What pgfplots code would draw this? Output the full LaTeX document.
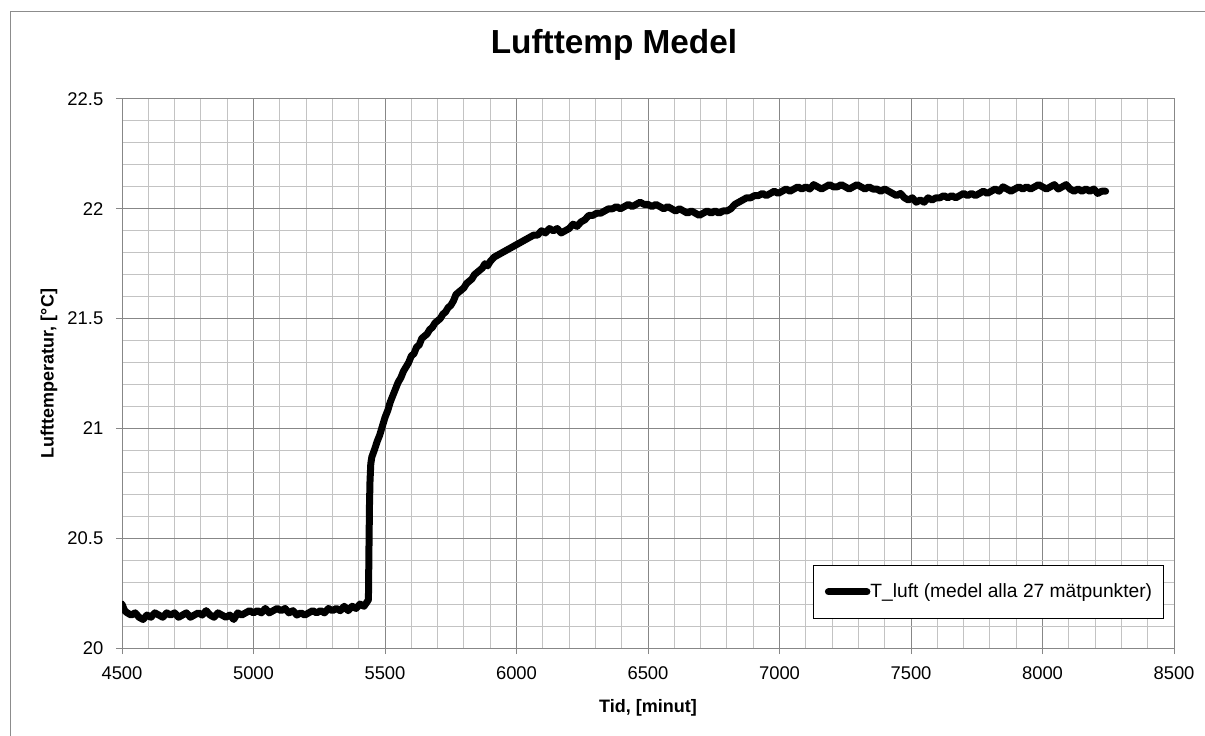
\documentclass[border=0pt]{standalone}
\usepackage{pgfplots}
\pgfplotsset{compat=1.18}
\usepackage{fontspec}
\setmainfont{Liberation Sans}
\definecolor{majgrid}{HTML}{878787}
\definecolor{mingrid}{HTML}{C3C3C3}
\definecolor{framegray}{HTML}{8C8C8C}
\begin{document}
\begin{tikzpicture}
\useasboundingbox (0,0) rectangle (903.75pt,551.25pt);
\fill[white] (0,0) rectangle (903.75pt,551.25pt);
\draw[framegray, line width=0.75pt] (7.5pt,-1pt) -- (7.5pt,542.25pt) -- (905pt,542.25pt);
\begin{axis}[
  at={(91.5pt,65.25pt)}, anchor=south west,
  scale only axis, width=789pt, height=411.75pt,
  xmin=4500, xmax=8500, ymin=20, ymax=22.5,
  xtick={4500,5000,...,8500},
  ytick={20,20.5,21,21.5,22,22.5},
  minor x tick num=4, minor y tick num=4,
  grid=both,
  major grid style={majgrid, line width=0.75pt},
  minor grid style={mingrid, line width=0.75pt},
  axis line style={majgrid, line width=0.75pt},
  tick style={majgrid, line width=0.75pt},
  tick align=outside,
  major tick length=4.5pt, minor tick length=0pt,
  xtick pos=bottom, ytick pos=left,
  /pgf/number format/assume math mode=true,
  /pgf/number format/1000 sep={},
  ticklabel style={font=\fontsize{13.8}{16}\selectfont},
  xticklabel style={yshift=-6pt},
  yticklabel style={xshift=-6pt},
  xlabel={Tid, [minut]},
  ylabel={Lufttemperatur, [°C]},
  label style={font=\fontsize{13.5}{16}\selectfont\bfseries},
  xlabel style={at={(axis description cs:0.5,-0.1184)}, anchor=base},
  ylabel style={at={(axis description cs:-0.0694,0.5)}, anchor=center},
  title={Lufttemp Medel},
  title style={at={(axis description cs:0.4677,1.0674)}, anchor=base, font=\fontsize{25}{30}\selectfont\bfseries},
  legend style={at={(axis description cs:0.9905,0.0528)}, anchor=south east,
    draw=black, line width=0.75pt, inner xsep=8.5pt, inner ysep=14pt,
    font=\fontsize{14.4}{17}\selectfont, nodes={inner sep=0pt}},
  legend image code/.code={\draw[line width=5.4pt, line cap=round] (2.5pt,0pt) -- (31.25pt,0pt);},
]
\addplot[black, line width=5.25pt, line join=round, line cap=round] table {
4500 20.20
4510 20.17
4520 20.16
4535 20.15
4550 20.16
4565 20.14
4580 20.13
4595 20.15
4610 20.14
4625 20.16
4640 20.15
4655 20.14
4670 20.16
4685 20.15
4700 20.16
4715 20.14
4730 20.15
4745 20.16
4760 20.14
4775 20.15
4790 20.16
4805 20.15
4820 20.17
4835 20.15
4850 20.14
4865 20.16
4880 20.15
4895 20.14
4910 20.15
4925 20.13
4940 20.16
4955 20.15
4970 20.16
4985 20.17
5000 20.16
5015 20.17
5030 20.16
5045 20.18
5060 20.16
5075 20.17
5090 20.18
5105 20.17
5120 20.18
5135 20.16
5150 20.17
5165 20.15
5180 20.16
5195 20.15
5210 20.16
5225 20.17
5240 20.16
5255 20.17
5270 20.16
5285 20.18
5300 20.17
5315 20.18
5330 20.17
5345 20.19
5360 20.17
5375 20.19
5390 20.18
5405 20.20
5420 20.19
5432 20.21
5437 20.22
5439 20.45
5441 20.65
5443 20.76
5446 20.84
5450 20.87
5456 20.89
5462 20.91
5470 20.94
5480 20.97
5490 21.01
5500 21.05
5510 21.08
5520 21.12
5530 21.15
5540 21.18
5550 21.21
5560 21.23
5570 21.26
5580 21.28
5590 21.30
5600 21.33
5610 21.34
5620 21.37
5630 21.38
5640 21.41
5650 21.42
5660 21.43
5670 21.45
5680 21.46
5690 21.48
5700 21.49
5710 21.50
5720 21.52
5730 21.53
5740 21.55
5750 21.56
5760 21.58
5770 21.61
5780 21.62
5790 21.63
5800 21.64
5810 21.66
5820 21.67
5830 21.68
5840 21.70
5850 21.71
5860 21.72
5870 21.73
5880 21.75
5890 21.74
5900 21.76
5915 21.78
5930 21.79
5945 21.80
5960 21.81
5975 21.82
5990 21.83
6005 21.84
6020 21.85
6035 21.86
6050 21.87
6065 21.88
6080 21.88
6095 21.90
6110 21.89
6125 21.91
6140 21.90
6155 21.91
6170 21.89
6185 21.90
6200 21.91
6215 21.93
6230 21.92
6245 21.94
6260 21.95
6275 21.97
6290 21.97
6305 21.98
6320 21.98
6335 21.99
6350 22.00
6365 22.00
6380 22.01
6395 22.00
6410 22.01
6425 22.02
6440 22.01
6455 22.02
6470 22.03
6485 22.02
6500 22.02
6515 22.01
6530 22.02
6545 22.01
6560 22.00
6575 22.01
6590 22.00
6605 21.99
6620 22.00
6635 21.99
6650 21.98
6665 21.99
6680 21.98
6695 21.97
6710 21.98
6725 21.99
6740 21.98
6755 21.99
6770 21.98
6785 21.99
6800 21.99
6815 22.00
6830 22.02
6845 22.03
6860 22.04
6875 22.05
6890 22.05
6905 22.06
6920 22.06
6935 22.07
6950 22.06
6965 22.07
6980 22.08
6995 22.07
7010 22.08
7025 22.09
7040 22.08
7055 22.09
7070 22.10
7085 22.09
7100 22.10
7115 22.09
7130 22.11
7145 22.10
7160 22.09
7175 22.10
7190 22.11
7205 22.10
7220 22.10
7235 22.11
7250 22.10
7265 22.09
7280 22.10
7295 22.11
7310 22.10
7325 22.09
7340 22.10
7355 22.09
7370 22.09
7385 22.08
7400 22.09
7415 22.08
7430 22.07
7445 22.06
7460 22.07
7475 22.05
7490 22.04
7505 22.05
7520 22.03
7535 22.04
7550 22.03
7565 22.05
7580 22.04
7595 22.05
7610 22.05
7625 22.06
7640 22.05
7655 22.06
7670 22.05
7685 22.06
7700 22.07
7715 22.06
7730 22.07
7745 22.06
7760 22.07
7775 22.08
7790 22.07
7805 22.08
7820 22.09
7835 22.08
7850 22.10
7865 22.09
7880 22.08
7895 22.09
7910 22.10
7925 22.09
7940 22.10
7955 22.09
7970 22.10
7985 22.11
8000 22.10
8015 22.09
8030 22.10
8045 22.11
8060 22.09
8075 22.10
8090 22.11
8105 22.09
8120 22.08
8135 22.09
8150 22.08
8165 22.09
8180 22.08
8195 22.09
8210 22.07
8225 22.08
8240 22.08
};
\addlegendentry{T\_luft (medel alla 27 mätpunkter)}
\end{axis}
\end{tikzpicture}
\end{document}
